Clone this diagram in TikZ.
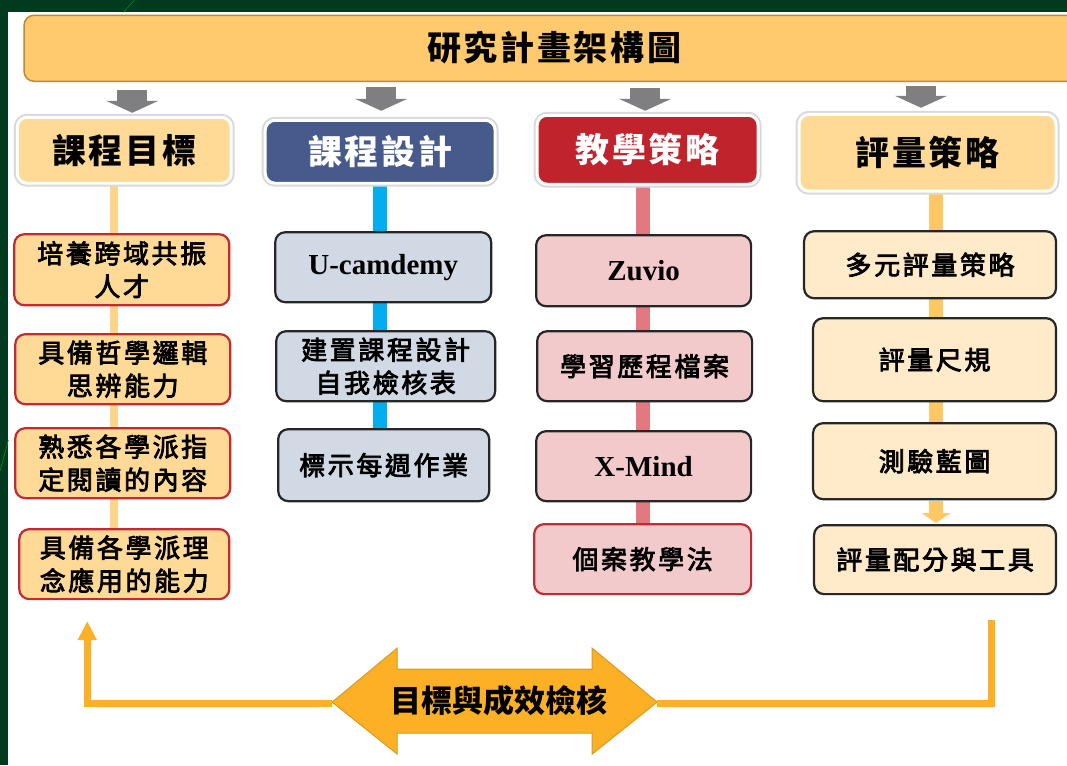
\documentclass[tikz,border=0pt]{standalone}
\usepackage{fontspec}
\setmainfont{Noto Sans CJK TC}
\newfontfamily\cjkfb{Noto Sans CJK TC}[FakeBold=3]
\newfontfamily\latinserif{Liberation Serif}
\usetikzlibrary{arrows.meta}
\pgfdeclarelayer{canvas}
\pgfdeclarelayer{background}
\pgfsetlayers{canvas,background,main}
\definecolor{bggreen}{HTML}{023A20}
\definecolor{titlefill}{HTML}{FFCA6E}
\definecolor{titledraw}{HTML}{C08A30}
\definecolor{grayarr}{HTML}{7F7F82}
\definecolor{lorange}{HTML}{FFDA96}
\definecolor{hblue}{HTML}{465A8C}
\definecolor{hred}{HTML}{C1232D}
\definecolor{bred}{HTML}{C32A32}
\definecolor{cblue}{HTML}{D1D9E5}
\definecolor{cpink}{HTML}{F2CACB}
\definecolor{cpale}{HTML}{FFEBC9}
\definecolor{dk}{HTML}{262626}
\definecolor{lineA}{HTML}{FFD38A}
\definecolor{lineB}{HTML}{00AEEF}
\definecolor{lineC}{HTML}{E27980}
\definecolor{lineD}{HTML}{FFC864}
\definecolor{gold}{HTML}{FBB026}
\definecolor{golddraw}{HTML}{D99A1E}
\tikzset{
  x=1pt, y=-1pt,
  hbox/.style={rounded corners=10pt, draw=white, line width=3pt,
    preaction={draw=black!15, line width=7pt},
    inner sep=0pt, align=center,
    font=\fontsize{34}{40}\selectfont\bfseries\addfontfeature{LetterSpace=8}},
  cbox/.style={rounded corners=10pt, line width=2.2pt, inner sep=0pt, align=center,
    font=\fontsize{26}{33}\selectfont\cjkfb\addfontfeature{LetterSpace=10}},
  box1/.style={cbox, fill=lorange, draw=bred},
  box2/.style={cbox, fill=cblue, draw=dk},
  box3/.style={cbox, fill=cpink, draw=dk},
  box4/.style={cbox, fill=cpale, draw=dk},
  serifbox/.style={font=\fontsize{29}{33}\selectfont\latinserif\bfseries},
  garrow/.style={draw=grayarr, line width=30pt, -{Triangle[width=52pt,length=12pt]}},
  goldline/.style={draw=gold, line width=7pt},
}
\begin{document}
\begin{tikzpicture}
% background
\begin{pgfonlayer}{canvas}
\fill[bggreen] (0,0) rectangle (1067,765);
\fill[white] (8,12) rectangle (1067,765);
\draw[green!45!bggreen, line width=0.6pt] (134,0) -- (123,12);
\draw[green!45!bggreen, line width=0.6pt] (8,440) -- (0,470);
\end{pgfonlayer}
\useasboundingbox (0,0) rectangle (1067,765);

% title bar
\node[fill=titlefill, draw=titledraw, line width=1.5pt, rounded corners=10pt,
  minimum width=1060pt, minimum height=66pt, anchor=west, inner sep=0pt] (title) at (23,48) {};
\node[font=\fontsize{34}{40}\selectfont\bfseries\addfontfeature{LetterSpace=8}] (ttext) at (554,47) {研究計畫架構圖};

% headers
\node[hbox, fill=lorange, minimum width=214pt, minimum height=66pt] (h1) at (124,150) {課程目標};
\node[hbox, fill=hblue, text=white, minimum width=230pt, minimum height=63pt] (h2) at (380,151.5) {課程設計};
\node[hbox, fill=hred, text=white, minimum width=221pt, minimum height=69pt] (h3) at (647.5,149.5) {教學策略};
\node[hbox, fill=lorange, minimum width=257pt, minimum height=77pt] (h4) at (927.5,152.5) {評量策略};

% column 1
\node[box1, minimum width=215pt, minimum height=71pt] (c11) at (121.5,269.5) {培養跨域共振\\人才};
\node[box1, minimum width=215pt, minimum height=70pt] (c12) at (122.5,369) {具備哲學邏輯\\思辨能力};
\node[box1, minimum width=215pt, minimum height=70pt] (c13) at (122.5,463) {熟悉各學派指\\定閱讀的內容};
\node[box1, minimum width=210pt, minimum height=70pt] (c14) at (124,564) {具備各學派理\\念應用的能力};

% column 2
\node[box2, minimum width=216pt, minimum height=70pt, serifbox] (c21) at (383,267) {U-camdemy};
\node[box2, minimum width=219pt, minimum height=70pt] (c22) at (385.5,366) {建置課程設計\\自我檢核表};
\node[box2, minimum width=211pt, minimum height=72pt] (c23) at (383.5,465) {標示每週作業};

% column 3
\node[box3, minimum width=215pt, minimum height=71pt, serifbox] (c31) at (643.5,270.5) {Zuvio};
\node[box3, minimum width=215pt, minimum height=70pt] (c32) at (644.5,366) {學習歷程檔案};
\node[box3, minimum width=215pt, minimum height=70pt, serifbox] (c33) at (643.5,466) {X-Mind};
\node[box3, draw=bred, minimum width=217pt, minimum height=70pt] (c34) at (642.5,559) {個案教學法};

% column 4
\node[box4, minimum width=252pt, minimum height=67pt] (c41) at (930,264.5) {多元評量策略};
\node[box4, minimum width=243pt, minimum height=83pt] (c42) at (934.5,359.5) {評量尺規};
\node[box4, minimum width=243pt, minimum height=76pt] (c43) at (934.5,461) {測驗藍圖};
\node[box4, minimum width=242pt, minimum height=69pt] (c44) at (935,559.5) {評量配分與工具};

% column line positions
\coordinate (x1) at (114,0);
\coordinate (x2) at (380,0);
\coordinate (x3) at (643,0);
\coordinate (x4) at (936,0);

\begin{pgfonlayer}{background}
\draw[lineA, line width=8pt] (h1.south -| x1) -- (c14.north -| x1);
\draw[lineB, line width=14pt] (h2.south -| x2) -- (c23.north -| x2);
\draw[lineC, line width=14pt] (h3.south -| x3) -- (c34.north -| x3);
\draw[lineD, line width=14pt] (h4.south -| x4) -- (c43.north -| x4);
\end{pgfonlayer}
\draw[lineD, line width=14pt, -{Triangle[width=28pt,length=10pt]}, shorten >=1pt]
  ([yshift=-1pt]c43.south -| x4) -- (c44.north -| x4);

% gray arrows from title to headers
\coordinate (g1) at (132,0);
\coordinate (g2) at (381,0);
\coordinate (g3) at (645,0);
\coordinate (g4) at (921,0);
\draw[garrow] ([yshift=-8pt]title.south -| g1) -- ([yshift=3pt]h1.north -| g1);
\draw[garrow] ([yshift=-5pt]title.south -| g2) -- ([yshift=8pt]h2.north -| g2);
\draw[garrow] ([yshift=-6pt]title.south -| g3) -- ([yshift=3pt]h3.north -| g3);
\draw[garrow] ([yshift=-4pt]title.south -| g4) -- ([yshift=5pt]h4.north -| g4);

% bottom double arrow
\coordinate (dl) at (332,702);
\coordinate (dr) at (657,702);
\draw[fill=gold, draw=golddraw, line width=1pt]
  (dl) -- (397,648) -- (397,669) -- (592,669) -- (592,648) -- (dr)
  -- (592,754) -- (592,733) -- (397,733) -- (397,754) -- cycle;
\node[font=\fontsize{31}{36}\selectfont\bfseries] (dbl) at (499,701) {目標與成效檢核};
\coordinate (lc) at (87,703);
\coordinate (lt) at (87,621);
\coordinate (rc) at (991,703);
\coordinate (rt) at (991,620);
\draw[goldline, -{Triangle[width=18pt,length=19pt]}] (dl |- lc) -- (lc) -- (lt);
\draw[goldline] (dr |- rc) -- (rc) -- (rt);
\end{tikzpicture}
\end{document}
